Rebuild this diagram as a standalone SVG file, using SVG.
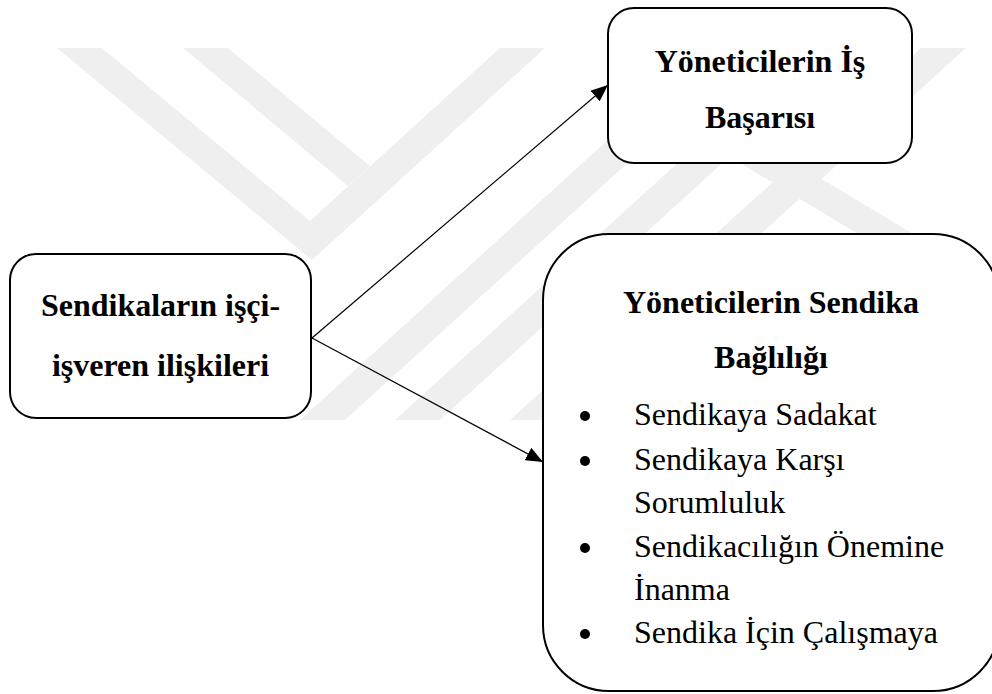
<svg xmlns="http://www.w3.org/2000/svg" width="992" height="694" viewBox="0 0 992 694">
  <style>
    .wm { fill: #efefef; }
    .box { fill: #ffffff; stroke: #000000; stroke-width: 2; }
    .conn { stroke: #000000; stroke-width: 1.2; fill: none; marker-end: url(#arrow); }
    .title { font-family: "Liberation Serif", "Times New Roman", serif; font-weight: bold; font-size: 32px; fill: #000000; text-anchor: middle; }
    .item { font-family: "Liberation Serif", "Times New Roman", serif; font-size: 32px; fill: #000000; }
    .dot { fill: #000000; }
  </style>
  <defs>
    <marker id="arrow" markerUnits="userSpaceOnUse" markerWidth="18" markerHeight="14" refX="17" refY="7" orient="auto">
      <path d="M0,0 L17,7 L0,14 z" fill="#000000"/>
    </marker>
  </defs>
  <rect width="992" height="694" fill="#ffffff"/>
  <g id="watermark">
    <polygon class="wm" points="57,48 102,48 310,221 500,48 545,48 312,260"/>
    <polygon class="wm" points="183,48 228,48 370,166 348,186"/>
    <polygon class="wm" points="709,48 754,48 345,420 300,420"/>
    <polygon class="wm" points="804,48 849,48 440,420 395,420"/>
    <polygon class="wm" points="921,48 966,48 555,420 510,420"/>
    <polygon class="wm" points="740,163 795,163 915,235 860,235"/>
  </g>
  <g id="connectors">
    <line class="conn" x1="312" y1="338" x2="608" y2="85"/>
    <line class="conn" x1="312" y1="338" x2="543" y2="462"/>
  </g>
  <g id="node-sendika">
    <rect class="box" x="10" y="254" width="301" height="164" rx="26" ry="26"/>
    <text class="title" x="160.5" y="316">Sendikaların işçi-</text>
    <text class="title" x="160.5" y="376">işveren ilişkileri</text>
  </g>
  <g id="node-basari">
    <rect class="box" x="608" y="8" width="304" height="155" rx="26" ry="26"/>
    <text class="title" x="760" y="72">Yöneticilerin İş</text>
    <text class="title" x="760" y="128">Başarısı</text>
  </g>
  <g id="node-baglilik">
    <rect class="box" x="543" y="234" width="456" height="457" rx="66" ry="66"/>
    <text class="title" x="771" y="313">Yöneticilerin Sendika</text>
    <text class="title" x="771" y="368">Bağlılığı</text>
    <circle class="dot" cx="585" cy="416" r="5"/>
    <text class="item" x="634" y="425">Sendikaya Sadakat</text>
    <circle class="dot" cx="585" cy="461" r="5"/>
    <text class="item" x="634" y="470">Sendikaya Karşı</text>
    <text class="item" x="634" y="513">Sorumluluk</text>
    <circle class="dot" cx="585" cy="548" r="5"/>
    <text class="item" x="634" y="557">Sendikacılığın Önemine</text>
    <text class="item" x="634" y="600">İnanma</text>
    <circle class="dot" cx="585" cy="634" r="5"/>
    <text class="item" x="634" y="643">Sendika İçin Çalışmaya</text>
  </g>
</svg>
